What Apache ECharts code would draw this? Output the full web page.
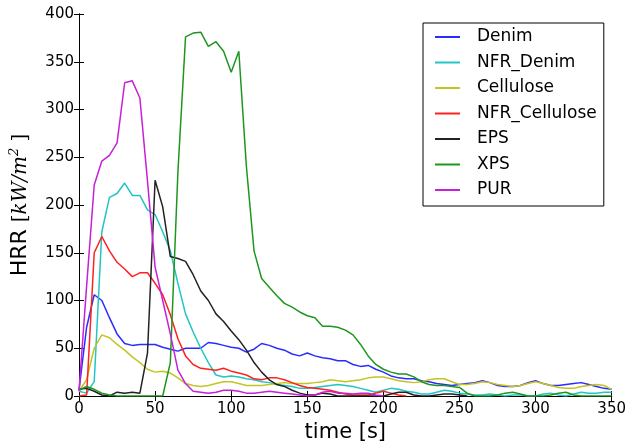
<!DOCTYPE html>
<html>
<head>
<meta charset="utf-8">
<script src="https://cdn.jsdelivr.net/npm/echarts@6/dist/echarts.min.js"></script>
<style>
  html, body { margin: 0; padding: 0; background: #fff; }
  #chart { width: 629px; height: 448px; }
</style>
</head>
<body>
<div id="chart"></div>
<script>
// time axis, sampled every 5 s
var times = [0, 5, 10, 15, 20, 25, 30, 35, 40, 45, 50, 55, 60, 65, 70, 75, 80, 85, 90, 95,
    100, 105, 110, 115, 120, 125, 130, 135, 140, 145, 150, 155, 160, 165, 170, 175, 180, 185, 190, 195,
    200, 205, 210, 215, 220, 225, 230, 235, 240, 245, 250, 255, 260, 265, 270, 275, 280, 285, 290, 295,
    300, 305, 310, 315, 320, 325, 330, 335, 340, 345, 350];

var seriesNames = ['Denim', 'NFR_Denim', 'Cellulose', 'NFR_Cellulose', 'EPS', 'XPS', 'PUR'];
var seriesColors = ['#2b2bff', '#22c4c4', '#c4c422', '#ff2020', '#222222', '#1e961e', '#c81fd8'];

var denim = [6, 72, 106, 100, 82, 65, 55, 53, 54, 54,
    54, 51, 49, 47, 50, 50, 50, 56, 55, 53,
    51, 50, 46, 49, 55, 53, 50, 48, 44, 42,
    45, 42, 40, 39, 37, 37, 33, 31, 32, 28,
    25, 21, 19, 18, 18, 16, 15, 13, 12, 11,
    12, 13, 14, 16, 14, 11, 10, 10, 11, 14,
    16, 13, 11, 11, 12, 13, 14, 12, 10, 8,
    7];
var nfrDenim = [5, 3, 15, 172, 208, 212, 223, 210, 210, 195,
    190, 172, 152, 118, 86, 67, 50, 35, 22, 20,
    21, 20, 18, 17, 15, 14, 12, 11, 10, 8,
    8, 9, 10, 11, 12, 11, 10, 8, 6, 4,
    6, 8, 7, 5, 4, 2, 2, 4, 6, 5,
    3, 2, 1, 1, 2, 1, 0, 1, 1, 0,
    0, 2, 3, 1, 0, 2, 4, 3, 3, 4,
    4];
var cellulose = [5, 17, 50, 64, 61, 54, 48, 41, 35, 28,
    25, 26, 24, 19, 13, 11, 10, 11, 13, 15,
    15, 13, 11, 11, 11, 12, 13, 14, 13, 13,
    13, 14, 15, 17, 16, 15, 16, 17, 19, 20,
    20, 18, 16, 15, 14, 15, 17, 18, 18, 15,
    12, 12, 13, 15, 14, 12, 11, 10, 11, 13,
    15, 13, 11, 9, 8, 8, 10, 11, 12, 11,
    7];
var nfrCellulose = [0, 1, 150, 167, 152, 140, 133, 125, 129, 129,
    118, 106, 85, 60, 42, 33, 29, 28, 27, 29,
    26, 24, 22, 18, 17, 19, 19, 17, 14, 11,
    9, 8, 7, 6, 4, 2, 1, 1, 1, 3,
    5, 3, 1, 0];
var eps = [7, 8, 5, 1, 0, 4, 3, 4, 3, 45,
    226, 198, 146, 144, 141, 127, 110, 100, 86, 78,
    68, 59, 48, 35, 25, 17, 12, 10, 6, 3,
    1, 1, 3, 2, 0, 0, 0, 0, 0, 0,
    0, 2, 4, 4, 1, 0, 0, 1, 2, 2,
    1, 0];
var xps = [6, 10, 7, 3, 1, 0, 0, 0, 0, 0,
    0, 0, 35, 235, 376, 380, 381, 366, 371, 361,
    339, 361, 240, 152, 123, 114, 105, 97, 93, 88,
    84, 82, 73, 73, 72, 69, 64, 54, 42, 33,
    28, 25, 23, 23, 20, 15, 12, 11, 11, 10,
    9, 3, 0, 0, 0, 1, 3, 4, 2, 0,
    0, 0, 1, 3, 4, 1, 0, 0, 0, 0,
    0];
var pur = [5, 115, 221, 246, 252, 265, 328, 330, 312, 225,
    135, 100, 65, 27, 13, 5, 4, 3, 4, 6,
    6, 5, 3, 3, 4, 5, 4, 3, 2, 1,
    0, 1, 4, 5, 3, 3, 2, 3, 3, 1,
    0];

var xTicks = [0, 50, 100, 150, 200, 250, 300, 350];
var yTicks = [0, 50, 100, 150, 200, 250, 300, 350, 400];

var allValues = [denim, nfrDenim, cellulose, nfrCellulose, eps, xps, pur];

var chart = echarts.init(document.getElementById('chart'));

// pair each value with its time
function toPoints(values) {
    var pts = [];
    for (var i = 0; i < values.length; i++) {
        pts.push([times[i], values[i]]);
    }
    return pts;
}

var series = [];
for (var i = 0; i < seriesNames.length; i++) {
    series.push({
        name: seriesNames[i],
        type: 'line',
        xAxisIndex: 0,
        yAxisIndex: 0,
        symbol: 'none',
        animation: false,
        lineStyle: { width: 1.5, color: seriesColors[i] },
        itemStyle: { color: seriesColors[i] },
        data: toPoints(allValues[i])
    });
}

var font = 'DejaVu Sans';
var axisLineStyle = { show: true, lineStyle: { color: '#000', width: 1 } };
var tickStyle = { show: true, inside: true, length: 5, lineStyle: { color: '#000' } };

var option = {
    backgroundColor: '#fff',
    animation: false,
    grid: { left: 76, right: 15, top: 14, bottom: 52 },
    legend: {
        data: seriesNames,
        orient: 'vertical',
        left: 423,
        top: 23,
        padding: [4, 7, 6, 12],
        icon: 'rect',
        itemWidth: 25,
        itemHeight: 2,
        itemGap: 5.5,
        borderColor: '#000',
        borderWidth: 1,
        borderRadius: 0,
        backgroundColor: '#fff',
        textStyle: { fontFamily: font, fontSize: 17, color: '#000', lineHeight: 20, padding: [0, 0, 0, 12] }
    },
    xAxis: [{
        type: 'value',
        min: xTicks[0],
        max: xTicks[xTicks.length - 1],
        interval: 50,
        position: 'bottom',
        axisLine: axisLineStyle,
        axisTick: tickStyle,
        splitLine: { show: false },
        axisLabel: { fontFamily: font, fontSize: 15, color: '#000', margin: 6 },
        name: 'time [s]',
        nameLocation: 'middle',
        nameGap: 25,
        nameTextStyle: { fontFamily: font, fontSize: 21, color: '#000' }
    }, {
        type: 'value',
        min: xTicks[0],
        max: xTicks[xTicks.length - 1],
        interval: 50,
        position: 'top',
        axisLine: axisLineStyle,
        axisTick: tickStyle,
        splitLine: { show: false },
        axisLabel: { show: false }
    }],
    yAxis: [{
        type: 'value',
        min: yTicks[0],
        max: yTicks[yTicks.length - 1],
        interval: 50,
        position: 'left',
        axisLine: axisLineStyle,
        axisTick: tickStyle,
        splitLine: { show: false },
        axisLabel: { fontFamily: font, fontSize: 15, color: '#000', margin: 5 },
        name: '{a|HRR }{r|[}{i|kW/m}{s|2}{r| ]}',
        nameLocation: 'middle',
        nameGap: 46,
        nameRotate: 90,
        nameTextStyle: {
            rich: {
                a: { fontFamily: font, fontSize: 22, color: '#000' },
                r: { fontFamily: 'DejaVu Serif', fontSize: 20, color: '#000' },
                i: { fontFamily: 'DejaVu Serif', fontStyle: 'italic', fontSize: 20, color: '#000' },
                s: { fontFamily: 'DejaVu Serif', fontStyle: 'italic', fontSize: 13, color: '#000', padding: [0, 0, 12, 0] }
            }
        }
    }, {
        type: 'value',
        min: yTicks[0],
        max: yTicks[yTicks.length - 1],
        interval: 50,
        position: 'right',
        axisLine: axisLineStyle,
        axisTick: tickStyle,
        splitLine: { show: false },
        axisLabel: { show: false }
    }],
    series: series
};

chart.setOption(option);
</script>
</body>
</html>
